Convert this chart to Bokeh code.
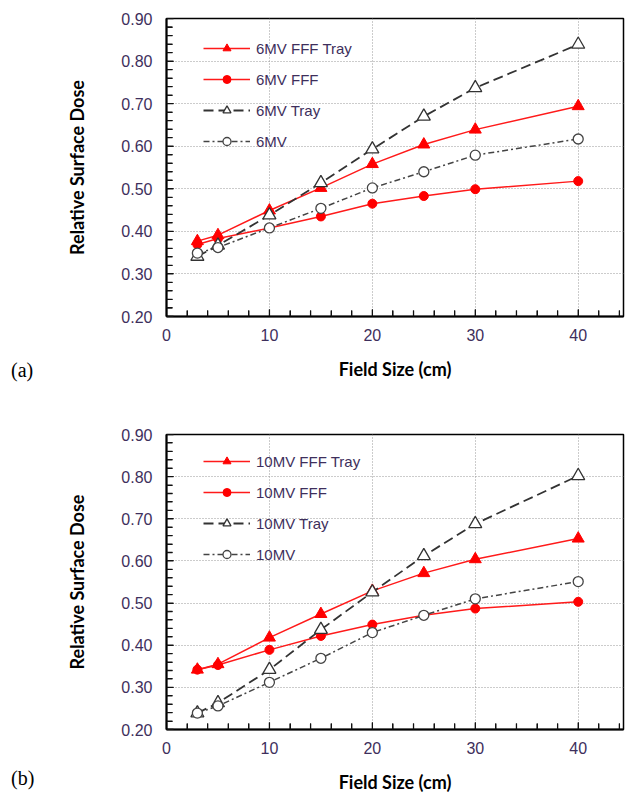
from bokeh.plotting import figure
from bokeh.layouts import column, row
from bokeh.models import Range1d, Legend, LegendItem, FixedTicker, Div, Spacer
from bokeh.embed import file_html
from bokeh.resources import INLINE

field = [3, 5, 10, 15, 20, 25, 30, 40]

mv6_fff_tray = [0.377, 0.391, 0.449, 0.502, 0.558, 0.604, 0.639, 0.694]
mv6_fff = [0.369, 0.383, 0.408, 0.435, 0.465, 0.483, 0.499, 0.518]
mv6_tray = [0.341, 0.367, 0.438, 0.514, 0.593, 0.670, 0.737, 0.839]
mv6 = [0.349, 0.362, 0.408, 0.454, 0.502, 0.540, 0.579, 0.617]

mv10_fff_tray = [0.342, 0.355, 0.418, 0.474, 0.529, 0.571, 0.604, 0.653]
mv10_fff = [0.342, 0.353, 0.389, 0.422, 0.449, 0.471, 0.487, 0.503]
mv10_tray = [0.239, 0.263, 0.342, 0.437, 0.526, 0.612, 0.688, 0.802]
mv10 = [0.239, 0.256, 0.312, 0.369, 0.430, 0.471, 0.510, 0.551]

names6 = ["6MV FFF Tray", "6MV FFF", "6MV Tray", "6MV"]
names10 = ["10MV FFF Tray", "10MV FFF", "10MV Tray", "10MV"]
tags = ["(a)", "(b)"]

x_ticks = [0, 10, 20, 30, 40]
y_ticks = [0.2, 0.3, 0.4, 0.5, 0.6, 0.7, 0.8, 0.9]
x_minor = [2, 4, 6, 8, 12, 14, 16, 18, 22, 24, 26, 28, 32, 34, 36, 38, 42, 44]
y_minor = [0.22, 0.24, 0.26, 0.28, 0.32, 0.34, 0.36, 0.38, 0.42, 0.44, 0.46, 0.48,
           0.52, 0.54, 0.56, 0.58, 0.62, 0.64, 0.66, 0.68, 0.72, 0.74, 0.76, 0.78,
           0.82, 0.84, 0.86, 0.88]

TICK_COLOR = "#3e2f5c"
X0, X1 = 0, 44.4
Y0, Y1 = 0.2, 0.9
FW, FH = 457, 298
LEFT_COL = 40
PX_X = (X1 - X0) / FW   # data units per pixel
PX_Y = (Y1 - Y0) / FH


def make_panel(series, names, height, top):
    p = figure(width=625 - LEFT_COL, height=height, output_backend="svg",
               toolbar_location=None,
               x_range=Range1d(X0, X1), y_range=Range1d(Y0, Y1),
               min_border_left=166 - LEFT_COL, min_border_right=2, min_border_top=top,
               min_border_bottom=height - top - FH)
    p.outline_line_color = "black"
    p.outline_line_width = 1.5

    for ax in (p.xaxis[0], p.yaxis[0]):
        ax.axis_line_color = "black"
        ax.axis_line_width = 2
        ax.major_tick_in = 7
        ax.major_tick_out = 0
        ax.minor_tick_in = 6
        ax.minor_tick_out = 0
        ax.major_tick_line_color = "#111111"
        ax.minor_tick_line_color = "#111111"
        ax.major_label_text_font = "Liberation Sans"
        ax.major_label_text_font_size = "16px"
        ax.major_label_text_color = TICK_COLOR
        ax.axis_label_text_font = "Lato"
        ax.axis_label_text_font_style = "bold"
        ax.axis_label_text_color = "black"
        ax.axis_label_text_font_size = "18px"
    p.xaxis[0].ticker = FixedTicker(ticks=x_ticks, minor_ticks=x_minor)
    p.yaxis[0].ticker = FixedTicker(ticks=y_ticks, minor_ticks=y_minor)
    p.xaxis.major_label_overrides = {t: str(t) for t in x_ticks}
    p.yaxis.major_label_overrides = {t: f"{t:.2f}" for t in y_ticks}
    p.xaxis.axis_label = "Field Size (cm)"
    p.yaxis.axis_label = "Relative Surface Dose"
    p.xaxis.major_label_standoff = 12
    p.yaxis.major_label_standoff = 14
    p.xaxis.axis_label_standoff = 14
    p.yaxis.axis_label_standoff = 30

    p.xgrid.grid_line_color = "#999999"
    p.ygrid.grid_line_color = "#999999"
    p.xgrid.grid_line_dash = "1 2"
    p.ygrid.grid_line_dash = "1 2"
    p.xgrid.ticker = FixedTicker(ticks=[10, 20, 30, 40])
    p.ygrid.ticker = FixedTicker(ticks=[0.3, 0.4, 0.5, 0.6, 0.7, 0.8])

    # inward tick marks along the left and bottom axes, drawn from the tick lists
    xt = x_ticks + x_minor
    yl_x = [7 * PX_Y if t in x_ticks else 6 * PX_Y for t in xt]
    p.segment(x0=xt, y0=[Y0] * len(xt), x1=xt, y1=[Y0 + d for d in yl_x],
              line_color="#111111", line_width=1.3)
    yt = y_ticks + y_minor
    xl_y = [7 * PX_X if t in y_ticks else 6 * PX_X for t in yt]
    p.segment(x0=[X0] * len(yt), y0=yt, x1=[X0 + d for d in xl_y], y1=yt,
              line_color="#111111", line_width=1.3)

    s_ft, s_f, s_t, s_m = series
    r1l = p.line(field, s_ft, line_color="#ff1a1a", line_width=1.5)
    r1m = p.scatter(field, s_ft, marker="triangle", size=12, fill_color="#ff0000",
                    line_color="#ff0000")
    r2l = p.line(field, s_f, line_color="#ff1a1a", line_width=1.5)
    r2m = p.scatter(field, s_f, marker="circle", size=9, fill_color="#ff0000",
                    line_color="#ff0000")
    r3l = p.line(field, s_t, line_color="#333333", line_width=1.8, line_dash="10 5")
    r3m = p.scatter(field, s_t, marker="triangle", size=13, fill_color="white",
                    line_color="#333333", line_width=1.3)
    r4l = p.line(field, s_m, line_color="#444444", line_width=1.5, line_dash="6 3 2 3")
    r4m = p.scatter(field, s_m, marker="circle", size=10, fill_color="white",
                    line_color="#444444", line_width=1.3)

    items = [LegendItem(label=names[0], renderers=[r1l, r1m]),
             LegendItem(label=names[1], renderers=[r2l, r2m]),
             LegendItem(label=names[2], renderers=[r3l, r3m]),
             LegendItem(label=names[3], renderers=[r4l, r4m])]
    leg = Legend(items=items, location=(37, 165), padding=0, margin=0, spacing=11,
                 glyph_width=47, glyph_height=20, label_height=20, label_standoff=6,
                 border_line_color=None, background_fill_alpha=0,
                 label_text_font="Liberation Sans", label_text_font_size="15px",
                 label_text_color=TICK_COLOR)
    p.add_layout(leg, "center")
    return p


def tag_div(text):
    return Div(text=text, width=LEFT_COL, height=26, margin=0,
               styles={"font-family": "Liberation Serif", "font-size": "20px",
                       "color": "black", "padding-left": "11px", "line-height": "26px"})


p1 = make_panel((mv6_fff_tray, mv6_fff, mv6_tray, mv6), names6, 400, 18)
p2 = make_panel((mv10_fff_tray, mv10_fff, mv10_tray, mv10), names10, 395, 34)

left = column(Spacer(width=LEFT_COL, height=357, margin=0), tag_div(tags[0]),
              Spacer(width=LEFT_COL, height=382, margin=0), tag_div(tags[1]),
              spacing=0)
right = column(p1, p2, spacing=0)
layout = row(left, right, spacing=0)
open("out.html", "w").write(file_html(layout, INLINE))
